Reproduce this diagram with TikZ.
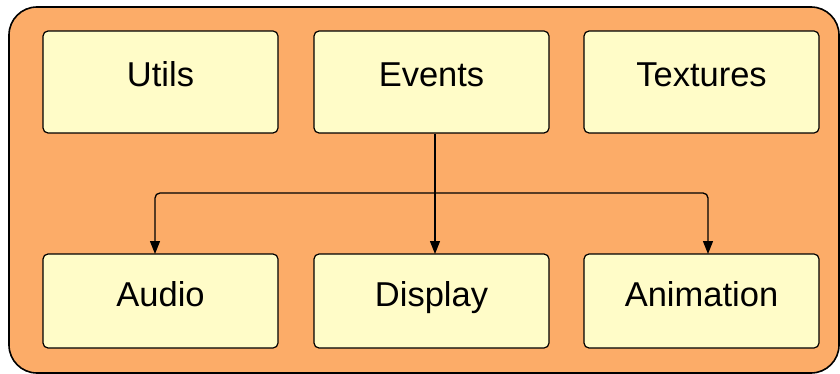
\documentclass[tikz,border=0pt]{standalone}
\usepackage{fontspec}
\setmainfont{Liberation Sans}
\usetikzlibrary{arrows.meta}
\definecolor{outerfill}{RGB}{252,172,104}
\definecolor{boxfill}{RGB}{255,252,200}
\begin{document}
\begin{tikzpicture}[x=1pt,y=-1pt,
  modbox/.style={draw=black,line width=1.2pt,fill=boxfill,rounded corners=5pt,
    minimum width=235pt,minimum height=102pt,inner sep=0pt,
    text height=24pt,text depth=14pt,
    font=\fontsize{34.5}{38}\selectfont},
  lowbox/.style={modbox,minimum height=94pt},
  conn/.style={line width=1.3pt,rounded corners=5pt,-{Triangle[length=13pt,width=10pt]}}]
\useasboundingbox (0,0) rectangle (840,374);
\draw[line width=1.6pt,fill=outerfill,rounded corners=28pt] (9,7) rectangle (839,373);
\node[modbox] (utils) at (160.5,82) {Utils};
\node[modbox] (events) at (431.5,82) {Events};
\node[modbox] (textures) at (701.5,82) {Textures};
\node[lowbox] (audio) at (160.5,301) {Audio};
\node[lowbox] (display) at (431.5,301) {Display};
\node[lowbox] (animation) at (701.5,301) {Animation};
\coordinate (j) at (435,193);
\draw[line width=1.3pt] (events.south -| j) -- (j);
\draw[conn] (j) -- (155,193) -- (155,254);
\draw[conn] (j) -- (435,254);
\draw[conn] (j) -- (708,193) -- (708,254);
\end{tikzpicture}
\end{document}
